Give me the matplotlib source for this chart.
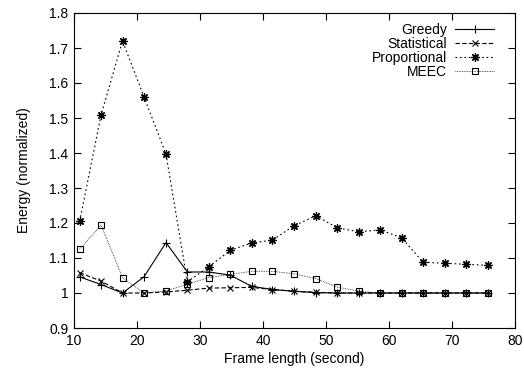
import matplotlib
matplotlib.use('Agg')
import matplotlib.pyplot as plt

plt.rcParams['font.family'] = ['Liberation Sans', 'DejaVu Sans']

# frame lengths (seconds)
frame_len = [10.9, 14.3, 17.7, 21.1, 24.6, 28.0, 31.4, 34.8, 38.2, 41.5,
             44.9, 48.4, 51.8, 55.2, 58.6, 62.0, 65.4, 68.9, 72.3, 75.7]

greedy = [1.046, 1.024, 1.0, 1.046, 1.144, 1.060, 1.060, 1.051, 1.019, 1.010,
          1.005, 1.001, 1.0, 1.0, 1.0, 1.0, 1.0, 1.0, 1.0, 1.0]
statistical = [1.058, 1.034, 1.0, 1.0, 1.003, 1.008, 1.014, 1.015, 1.016, 1.010,
               1.005, 1.002, 1.0, 1.0, 1.0, 1.0, 1.0, 1.0, 1.0, 1.0]
proportional = [1.205, 1.509, 1.72, 1.561, 1.397, 1.032, 1.075, 1.122, 1.143, 1.151,
                1.192, 1.221, 1.186, 1.175, 1.180, 1.158, 1.088, 1.085, 1.082, 1.079]
meec = [1.125, 1.194, 1.044, 1.0, 1.006, 1.025, 1.044, 1.053, 1.062, 1.062,
        1.055, 1.041, 1.017, 1.005, 1.0, 1.0, 1.0, 1.0, 1.0, 1.0]

x_ticks = [10, 20, 30, 40, 50, 60, 70, 80]
y_ticks = [0.9, 1.0, 1.1, 1.2, 1.3, 1.4, 1.5, 1.6, 1.7, 1.8]
y_labels = ['0.9', '1', '1.1', '1.2', '1.3', '1.4', '1.5', '1.6', '1.7', '1.8']

fig = plt.figure(figsize=(5.24, 3.75), dpi=100)
ax = fig.add_axes([74 / 524, 1 - 328 / 375, 441 / 524, 315 / 375])

lw = 0.8
ax.plot(frame_len, greedy, color='black', lw=lw, linestyle='-',
        marker='+', markersize=6, mew=0.8, label='Greedy')
ax.plot(frame_len, statistical, color='black', lw=lw, linestyle=(0, (4, 2)),
        marker='x', markersize=5, mew=0.8, label='Statistical')
ax.plot(frame_len, proportional, color='black', lw=lw, linestyle=(0, (1.5, 2.5)),
        marker=(8, 2, 0), markersize=6, mew=0.9, label='Proportional')
ax.plot(frame_len, meec, color='black', lw=0.6, linestyle=(0, (0.8, 1.2)),
        marker='s', markersize=5, mew=0.8, mfc='none', label='MEEC')

ax.set_xlim(10, 80)
ax.set_ylim(0.9, 1.8)
ax.set_xticks(x_ticks)
ax.set_yticks(y_ticks)
ax.set_yticklabels(y_labels)
ax.tick_params(direction='in', top=True, right=True, length=5, width=0.8,
               labelsize=10, pad=4)
for sp in ax.spines.values():
    sp.set_linewidth(0.8)

ax.set_xlabel('Frame length (second)', fontsize=10, labelpad=3)
ax.set_ylabel('Energy (normalized)', fontsize=10, labelpad=13)

ax.legend(loc='upper right', frameon=False, markerfirst=False, fontsize=10,
          handlelength=2.8, labelspacing=0.0, handletextpad=0.6,
          borderaxespad=0.0, bbox_to_anchor=(0.965, 0.985))

fig.savefig('out.png', dpi=100)
